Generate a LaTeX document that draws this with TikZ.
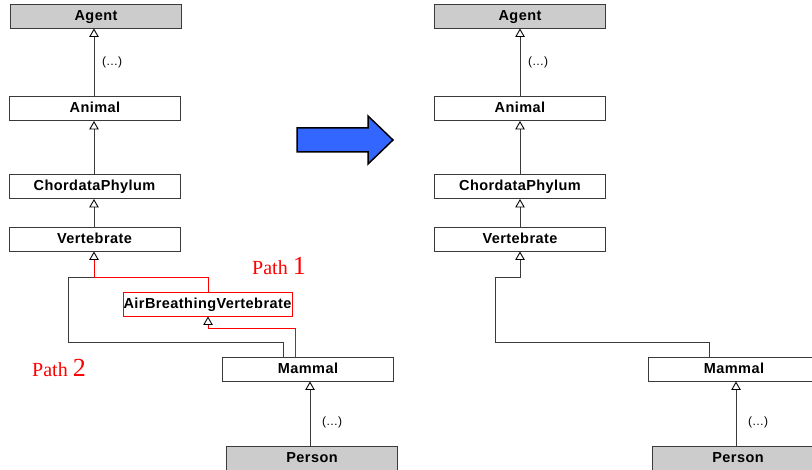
\documentclass[tikz,border=0pt]{standalone}
\usepackage{fontspec}
\setmainfont{Liberation Sans}
\newfontfamily\pathfont{Liberation Serif}
\usetikzlibrary{arrows.meta}
\definecolor{boxgray}{HTML}{CCCCCC}
\definecolor{linegray}{HTML}{3A3A3A}
\definecolor{bigblue}{HTML}{3366FF}
\tikzset{
  cls/.style={draw=linegray, line width=0.9pt, fill=white, minimum width=171pt, minimum height=24pt,
    inner sep=0pt, text height=11pt, text depth=2pt,
    font=\fontsize{14.5}{14.5}\selectfont\bfseries\addfontfeature{LetterSpace=3}},
  topcls/.style={cls, fill=boxgray},
  redcls/.style={cls, draw=red},
  inh/.style={draw=linegray, line width=0.9pt, -{Triangle[fill=white, color=black, length=8.5pt, width=9.5pt, line width=0.9pt]}},
  redinh/.style={inh, draw=red},
  plain/.style={draw=linegray, line width=0.9pt},
  dots/.style={font=\fontsize{12}{12}\selectfont, anchor=center},
  pathlbl/.style={text=red, font=\pathfont\fontsize{20}{20}\selectfont, anchor=base west, inner sep=0pt},
}
\begin{document}
\begin{tikzpicture}[x=1pt, y=-1pt]
\useasboundingbox (0,0) rectangle (812,470);
\begin{scope}
\clip (0,0) rectangle (812,470);
% ---------- left diagram ----------
\node[topcls] (agentL) at (96,16) {Agent};
\node[cls] (animalL) at (95,108.5) {Animal};
\node[cls] (chordL) at (94.5,186.5) {ChordataPhylum};
\node[cls] (vertL) at (94.5,239) {Vertebrate};
\node[redcls, minimum width=169pt] (abvL) at (207.5,304) {AirBreathingVertebrate};
\node[cls] (mammalL) at (308,369) {Mammal};
\node[topcls] (personL) at (312,458) {Person};

\draw[inh] (animalL.north -| agentL.south) ++(-2,0) coordinate (aL) -- (aL |- agentL.south);
\node[dots] at (112,62) {(…)};
\draw[inh] (chordL.north -| 94,0) coordinate (c1) -- (c1 |- animalL.south);
\draw[inh] (vertL.north -| 94,0) coordinate (c2) -- (c2 |- chordL.south);

% path 2 (gray)
\coordinate (m2) at (mammalL.north -| 283,0);
\draw[plain] (m2) -- (283,342) -- (68,342) -- (68,277) -- (94,277);
% path 1 (red)
\coordinate (m1) at (mammalL.north -| 295,0);
\draw[redinh] (m1) -- (295,328) -- (208,328) -- (abvL.south -| 208,0);
\coordinate (ab) at (abvL.north -| 208,0);
\draw[redinh] (ab) -- (208,277) -- (94,277) -- (vertL.south -| 94,0);

\draw[inh] (personL.north -| 310,0) coordinate (p1) -- (p1 |- mammalL.south);
\node[dots] at (332,422) {(…)};

\node[pathlbl] (p1lbl) at (252,275) {Path \fontsize{26}{26}\selectfont 1};
\node[pathlbl] (p2lbl) at (32,377) {Path \fontsize{26}{26}\selectfont 2};

% ---------- big arrow ----------
\draw[fill=bigblue, draw=black, line width=1.5pt, line join=miter]
  (297,128) -- (368,128) -- (368,116) -- (393,140) -- (368,164) -- (368,152) -- (297,152) -- cycle;

% ---------- right diagram ----------
\node[topcls] (agentR) at (520,16) {Agent};
\node[cls] (animalR) at (520,108.5) {Animal};
\node[cls] (chordR) at (520,186.5) {ChordataPhylum};
\node[cls] (vertR) at (520,239) {Vertebrate};
\node[cls] (mammalR) at (734,369) {Mammal};
\node[topcls] (personR) at (738,458) {Person};

\draw[inh] (animalR.north) -- (agentR.south);
\node[dots] at (538,62) {(…)};
\draw[inh] (chordR.north) -- (animalR.south);
\draw[inh] (vertR.north) -- (chordR.south);
\coordinate (mR) at (mammalR.north -| 709,0);
\draw[inh] (mR) -- (709,342) -- (495,342) -- (495,277) -- (520,277) -- (vertR.south);
\draw[inh] (personR.north -| 736,0) coordinate (p2) -- (p2 |- mammalR.south);
\node[dots] at (758,422) {(…)};
\end{scope}
\end{tikzpicture}
\end{document}
